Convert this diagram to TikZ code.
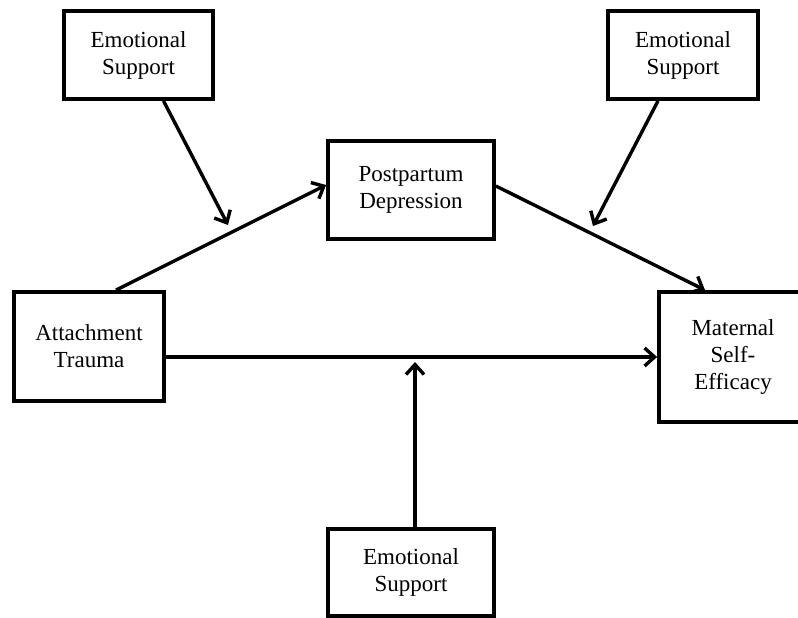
\documentclass[tikz,border=0pt]{standalone}
\usepackage{fontspec}
\setmainfont{Liberation Serif}
\usetikzlibrary{arrows.meta,calc}
\tikzset{
  varbox/.style={draw=black, line width=3.8pt, align=center, inner sep=0pt,
    font=\fontsize{23}{27}\selectfont},
  path/.style={line width=3.4pt, -{Straight Barb[length=10pt,width=18pt,line width=3.4pt]}}
}
\begin{document}
\begin{tikzpicture}[x=1pt,y=-1pt]
\clip (0,0) rectangle (798,618);
\fill[white] (0,0) rectangle (798,618);
\node[varbox, minimum width=149pt, minimum height=88pt] (es1) at (138.5,55) {Emotional\\Support};
\node[varbox, minimum width=150pt, minimum height=88pt] (es2) at (683,55) {Emotional\\Support};
\node[varbox, minimum width=166pt, minimum height=98pt] (pd) at (411,190) {Postpartum\\Depression};
\node[varbox, minimum width=150pt, minimum height=109pt] (at) at (89,346.5) {Attachment\\Trauma};
\node[varbox, minimum width=148pt, minimum height=130pt] (mse) at (733,357) {Maternal\\Self-\\Efficacy};
\node[varbox, minimum width=166pt, minimum height=87pt] (es3) at (411,572.5) {Emotional\\Support};
\coordinate (m1) at (228,225);
\coordinate (m2) at (593,226);
\coordinate (m3) at (415,362);
\draw[path] ([xshift=27pt]at.north) -- ([yshift=5pt]pd.west);
\draw[path] ([yshift=4pt]pd.east) -- ([xshift=-28pt]mse.north);
\draw[path] (at.east |- mse.west) -- (mse.west);
\draw[path] ([xshift=25pt]es1.south) -- (m1);
\draw[path] ([xshift=-25pt]es2.south) -- (m2);
\draw[path] ([xshift=4pt]es3.north) -- (m3);
\end{tikzpicture}
\end{document}
